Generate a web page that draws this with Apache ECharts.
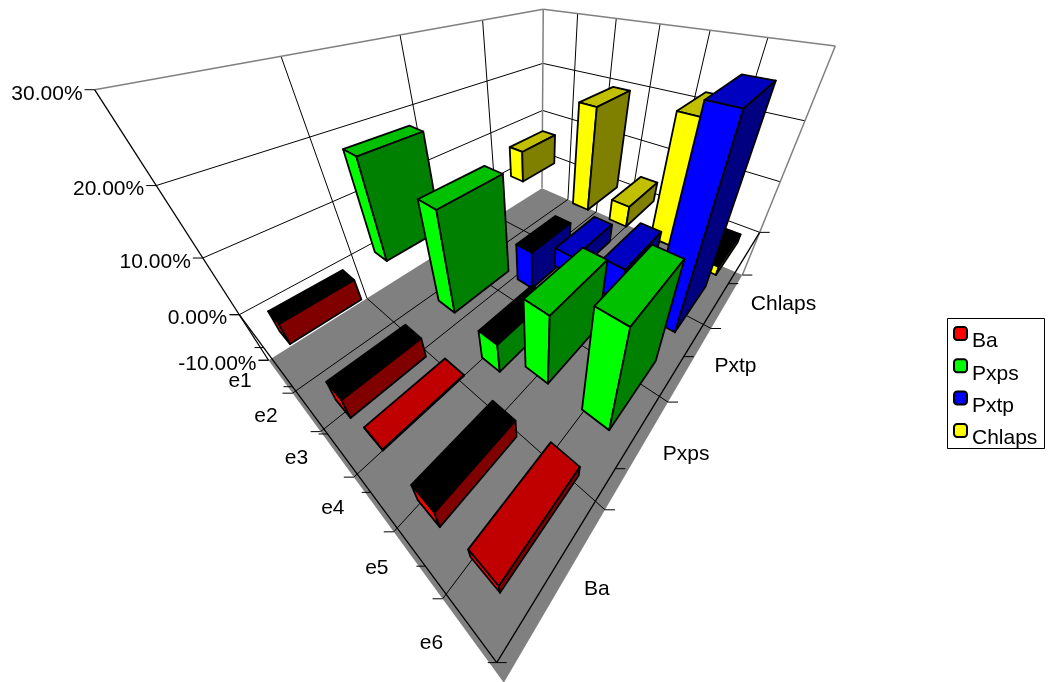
<!DOCTYPE html>
<html><head><meta charset="utf-8"><style>html,body{margin:0;background:#fff}#c{width:1049px;height:682px}</style>
<script src="https://cdn.jsdelivr.net/npm/echarts@6/dist/echarts.min.js"></script></head><body><div id="c"></div>
<script>
const categories = ['e1','e2','e3','e4','e5','e6'];
const seriesNames = ['Ba','Pxps','Pxtp','Chlaps'];
const valueTicks = [-10,0,10,20,30];
const baValues     = [-4.1,null,-3.7,0.15,-3.4,1.8];
const pxpsValues   = [18,null,16.7,-5.6,11.4,16.1];
const pxtpValues   = [null,null,-7.9,3.5,6,29.4];
const chlapsValues = [6.7,null,19.5,4.1,21.9,-1.7];
const allValues = [baValues,pxpsValues,pxtpValues,chlapsValues];

// Shades per series: bright front face, darker top, darkest side
const frontColors = ['#ff0000','#00ff00','#0000ff','#ffff00'];
const topColors   = ['#c00000','#00c000','#0000c0','#c0c000'];
const sideColors  = ['#800000','#008000','#000080','#808000'];

// Perspective camera: (category, series, value) to pixels
const CAM = [
  [3.3172807,179.11763,-5.8508821,239.24518],
  [5.1629847,-11.818351,-8.4756382,314.69963],
  [-0.079718836,0.19064005,-0.010880508,1]
];
function project(x,y,z){
  const d = v => v[0]*x+v[1]*y+v[2]*z+v[3];
  const w = d(CAM[2]);
  return [d(CAM[0])/w, d(CAM[1])/w];
}
const nX = categories.length, nY = seriesNames.length;
const zMin = valueTicks[0], zMax = valueTicks[valueTicks.length-1];
const FONT = '21px "Liberation Sans", Arial, sans-serif';

function line(a,b,color,width){
  return {type:'line',shape:{x1:a[0],y1:a[1],x2:b[0],y2:b[1]},style:{stroke:color||'#000',lineWidth:width||1}};
}
function tick(p,dx){ return line(p,[p[0]+dx,p[1]],'#000',1); }
function label(text,x,y,align){
  return {type:'text',style:{text,x,y,font:FONT,fill:'#000',textAlign:align,textVerticalAlign:'middle'}};
}
function poly(points,fill){
  return {type:'polygon',shape:{points},style:{fill,stroke:'#000',lineWidth:1.8,lineJoin:'round'}};
}

// Walls, floor, grid lines, axes and their labels
function renderFrame(){
  const c = [];
  c.push({type:'polygon',shape:{points:[project(0,0,zMin),project(nX,0,zMin),project(nX,nY,zMin),project(0,nY,zMin)]},style:{fill:'#808080'}});
  for(let i=1;i<nX;i++) c.push(line(project(i,0,zMin),project(i,nY,zMin)));
  for(let j=1;j<nY;j++) c.push(line(project(0,j,zMin),project(nX,j,zMin)));
  valueTicks.slice(1,-1).forEach(z=>{
    c.push(line(project(0,0,z),project(0,nY,z)));
    c.push(line(project(0,nY,z),project(nX,nY,z)));
  });
  for(let j=1;j<nY;j++) c.push(line(project(0,j,zMin),project(0,j,zMax)));
  for(let i=1;i<nX;i++) c.push(line(project(i,nY,zMin),project(i,nY,zMax)));
  // outer edges
  c.push(line(project(0,0,zMax),project(0,nY,zMax),'#808080',1.5));
  c.push(line(project(0,nY,zMax),project(nX,nY,zMax),'#808080',1.5));
  c.push(line(project(0,nY,zMin),project(0,nY,zMax),'#808080',1.5));
  c.push(line(project(nX,nY,zMin),project(nX,nY,zMax),'#808080',1.5));
  c.push(line(project(0,0,zMin),project(0,0,zMax),'#000',1.3));
  // axis baseline in the zero plane
  c.push(line(project(0,0,0),project(nX,0,0),'#000',1.3));
  c.push(line(project(nX,0,0),project(nX,nY,0),'#000',1.3));
  // ticks and labels
  valueTicks.forEach(z=>{
    const p = project(0,0,z);
    c.push(tick(p,-10));
    c.push(label(z.toFixed(2)+'%',p[0]-12,p[1]+4,'right'));
  });
  for(let i=0;i<=nX;i++){ c.push(tick(project(i,0,zMin),-10)); c.push(tick(project(i,0,0),-9)); }
  for(let j=0;j<=nY;j++){ c.push(tick(project(nX,j,zMin),10)); c.push(tick(project(nX,j,0),10)); }
  categories.forEach((t,i)=>{
    const p = project(i+0.5,0,zMin);
    c.push(label(t,p[0]-40,p[1]+5,'center'));
  });
  seriesNames.forEach((t,j)=>{
    const p = project(nX,j+0.5,zMin);
    c.push(label(t,p[0]+23,p[1]+4,'left'));
  });
  return {type:'group',children:c};
}

// One bar: top, front and side faces around its value
const GAP_X = 0.29, GAP_Y = 0.17;
function renderBar(params,api){
  const i=api.value(0), j=api.value(1), v=api.value(2);
  const x0=i+GAP_X, x1=i+1-GAP_X, y0=j+GAP_Y, y1=j+1-GAP_Y;
  const hi=Math.max(v,0), lo=Math.min(v,0);
  return {type:'group',children:[
    poly([project(x0,y0,hi),project(x1,y0,hi),project(x1,y1,hi),project(x0,y1,hi)], v<0?'#000000':topColors[j]),
    poly([project(x0,y0,lo),project(x1,y0,lo),project(x1,y0,hi),project(x0,y0,hi)], frontColors[j]),
    poly([project(x1,y0,lo),project(x1,y1,lo),project(x1,y1,hi),project(x1,y0,hi)], sideColors[j])
  ]};
}

const barSeries = seriesNames.map((name,j)=>({
  type:'custom',name,coordinateSystem:'none',silent:true,animation:false,z:10+nY-j,
  itemStyle:{color:frontColors[j]},
  renderItem:renderBar,
  data:allValues[j].map((v,i)=>[i,j,v]).filter(d=>d[2]!==null)
}));

const chart = echarts.init(document.getElementById('c'),null,{renderer:'canvas'});
chart.setOption({
  animation:false,backgroundColor:'#fff',
  // legend frame
  graphic:[{type:'rect',left:947,top:318,silent:true,shape:{width:97,height:130},style:{fill:'#fff',stroke:'#000',lineWidth:1},z:0}],
  legend:{
    data:seriesNames,orient:'vertical',left:947,top:314,selectedMode:false,
    padding:[1,7,1,6],itemGap:-4.7,itemWidth:13,itemHeight:13,icon:'roundRect',
    itemStyle:{borderColor:'#000',borderWidth:2},
    formatter:'{n|{name}}',
    textStyle:{rich:{n:{fontFamily:'"Liberation Sans", Arial, sans-serif',fontSize:21,color:'#000',lineHeight:18,padding:[16,0,0,0]}}}
  },
  series:[{type:'custom',coordinateSystem:'none',silent:true,animation:false,z:1,renderItem:renderFrame,data:[[0]]}].concat(barSeries)
});
</script></body></html>
